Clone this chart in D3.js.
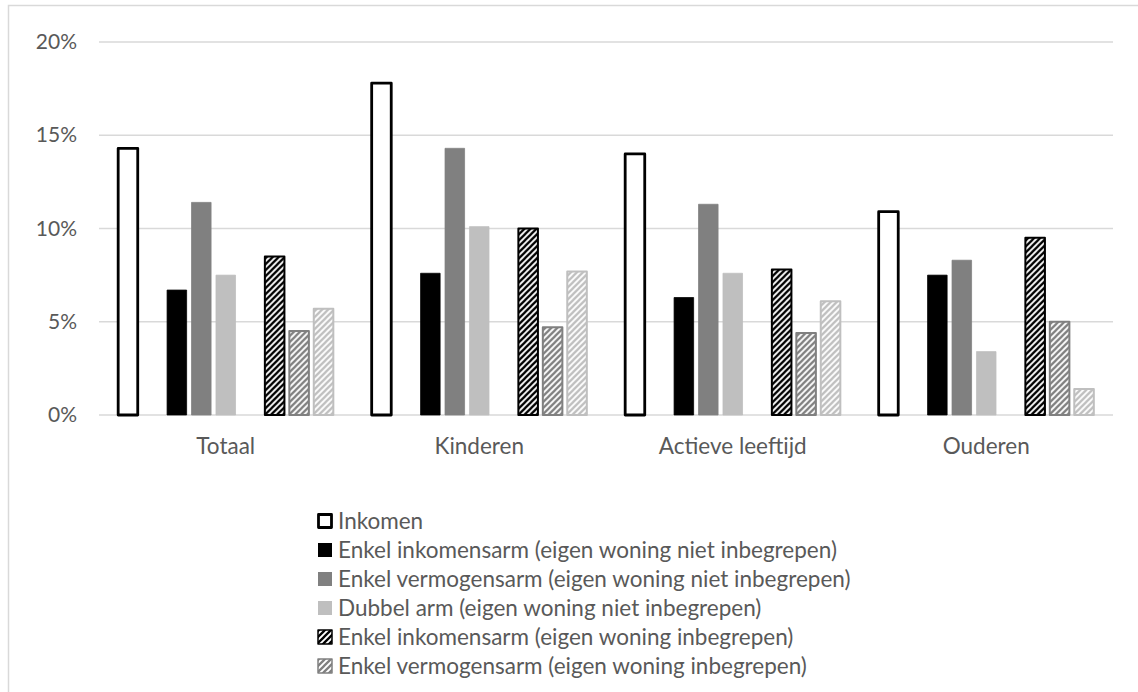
<!DOCTYPE html>
<html>
<head>
<meta charset="utf-8">
<script src="https://cdn.jsdelivr.net/npm/d3@7/dist/d3.min.js"></script>
<style>
  html, body { margin: 0; padding: 0; background: #ffffff; }
  svg { display: block; }
  text { font-family: Lato, "Open Sans", sans-serif; fill: #595959; }
</style>
</head>
<body>
<svg id="chart" width="1138" height="692"></svg>
<script>
// Armoede-indicatoren per leeftijdsgroep (in %)
const categories = ["Totaal", "Kinderen", "Actieve leeftijd", "Ouderen"];

const inkomen              = [14.3, 17.8, 14.0, 10.9];
const enkelInkomensarm     = [6.7, 7.6, 6.3, 7.5];
const enkelVermogensarm    = [11.4, 14.3, 11.3, 8.3];
const dubbelArm            = [7.5, 10.1, 7.6, 3.4];
const enkelInkomensarmEW   = [8.5, 10.0, 7.8, 9.5];
const enkelVermogensarmEW  = [4.5, 4.7, 4.4, 5.0];
const dubbelArmEW          = [5.7, 7.7, 6.1, 1.4];

const yTicks = [0, 5, 10, 15, 20];

// Series in cluster order; null entries are empty slots between the three blocks
const series = [
  { name: "Inkomen", values: inkomen, style: "outline", color: "#000000" },
  null,
  { name: "Enkel inkomensarm (eigen woning niet inbegrepen)", values: enkelInkomensarm, style: "solid", color: "#000000" },
  { name: "Enkel vermogensarm (eigen woning niet inbegrepen)", values: enkelVermogensarm, style: "solid", color: "#808080" },
  { name: "Dubbel arm (eigen woning niet inbegrepen)", values: dubbelArm, style: "solid", color: "#bfbfbf" },
  null,
  { name: "Enkel inkomensarm (eigen woning inbegrepen)", values: enkelInkomensarmEW, style: "hatch", color: "#000000" },
  { name: "Enkel vermogensarm (eigen woning inbegrepen)", values: enkelVermogensarmEW, style: "hatch", color: "#808080" },
  { name: "Dubbel arm (eigen woning inbegrepen)", values: dubbelArmEW, style: "hatch", color: "#bfbfbf", noLegend: true }
];

const svg = d3.select("#chart");

// Outer chart frame
svg.append("rect")
  .attr("x", 8.5).attr("y", 5.5)
  .attr("width", 1140).attr("height", 700)
  .attr("fill", "none").attr("stroke", "#d9d9d9").attr("stroke-width", 1.5);

// Hatch patterns
const defs = svg.append("defs");
const hatchId = c => "hatch-" + c.replace("#", "");
[...new Set(series.filter(s => s && s.style === "hatch").map(s => s.color))].forEach(c => {
  const p = defs.append("pattern")
    .attr("id", hatchId(c))
    .attr("patternUnits", "userSpaceOnUse")
    .attr("width", 6).attr("height", 6);
  p.append("rect").attr("width", 6).attr("height", 6).attr("fill", "#ffffff");
  p.append("path")
    .attr("d", "M-1.5,1.5 L1.5,-1.5 M0,6 L6,0 M4.5,7.5 L7.5,4.5")
    .attr("stroke", c).attr("stroke-width", 2.3).attr("stroke-linecap", "square");
});

const plot = { left: 99, right: 1113, top: 42, bottom: 415 };

const x0 = d3.scaleBand()
  .domain(categories)
  .range([plot.left, plot.right])
  .paddingInner(0.132)
  .paddingOuter(0.066);

const x1 = d3.scaleBand()
  .domain(d3.range(series.length))
  .range([0, x0.bandwidth()])
  .paddingInner(0.2)
  .paddingOuter(0.1);

const y = d3.scaleLinear().domain([0, 20]).range([plot.bottom, plot.top]);

// Gridlines
svg.append("g")
  .selectAll("line")
  .data(yTicks)
  .join("line")
  .attr("x1", plot.left).attr("x2", plot.right)
  .attr("y1", d => y(d)).attr("y2", d => y(d))
  .attr("stroke", "#d9d9d9").attr("stroke-width", 1.5);

// Y axis labels
const yAxis = d3.axisLeft(y).tickValues(yTicks).tickFormat(d => d + "%").tickSize(0).tickPadding(0);
svg.append("g")
  .attr("transform", `translate(${plot.left - 22},0)`)
  .call(yAxis)
  .call(g => g.select(".domain").remove())
  .call(g => g.selectAll("text")
    .attr("font-family", "Lato, sans-serif")
    .attr("font-size", 21)
    .attr("fill", "#595959"));

// X axis category labels
const xAxis = d3.axisBottom(x0).tickSize(0).tickPadding(0);
svg.append("g")
  .attr("transform", `translate(0,${plot.bottom + 23})`)
  .call(xAxis)
  .call(g => g.select(".domain").remove())
  .call(g => g.selectAll("text")
    .attr("font-family", "Lato, sans-serif")
    .attr("font-size", 22.5)
    .attr("fill", "#595959"));

function fillFor(s) {
  if (s.style === "outline") return "#ffffff";
  if (s.style === "hatch") return `url(#${hatchId(s.color)})`;
  return s.color;
}
function strokeWidthFor(s) {
  if (s.style === "outline") return 2.8;
  if (s.style === "hatch") return 2;
  return 0.75;
}

// Bars
const groups = svg.append("g")
  .selectAll("g")
  .data(categories)
  .join("g")
  .attr("transform", d => `translate(${x0(d)},0)`);

groups.selectAll("rect")
  .data((cat, ci) => series.map((s, si) => s ? { s, si, v: s.values[ci] } : null).filter(Boolean))
  .join("rect")
  .attr("x", d => x1(d.si))
  .attr("width", x1.bandwidth())
  .attr("y", d => y(d.v))
  .attr("height", d => y(0) - y(d.v))
  .attr("fill", d => fillFor(d.s))
  .attr("stroke", d => d.s.color)
  .attr("stroke-width", d => strokeWidthFor(d.s))
  .attr("stroke-linejoin", "round");

// Legend
const legendItems = series.filter(s => s && !s.noLegend);
const legend = svg.append("g").attr("transform", "translate(318,521)");
const rows = legend.selectAll("g")
  .data(legendItems)
  .join("g")
  .attr("transform", (d, i) => `translate(0,${i * 29})`);

rows.append("rect")
  .attr("x", d => d.style === "outline" ? 0.5 : 0)
  .attr("y", d => d.style === "outline" ? -6.5 : -7)
  .attr("width", d => d.style === "outline" ? 13 : 14)
  .attr("height", d => d.style === "outline" ? 13 : 14)
  .attr("fill", d => fillFor(d))
  .attr("stroke", d => d.style === "solid" ? "none" : d.color)
  .attr("stroke-width", d => d.style === "outline" ? 2.8 : 1.5)
  .attr("stroke-linejoin", "round");

rows.append("text")
  .attr("x", 20)
  .attr("y", 0)
  .attr("dy", "0.35em")
  .attr("font-size", 22.5)
  .text(d => d.name);
</script>
</body>
</html>
